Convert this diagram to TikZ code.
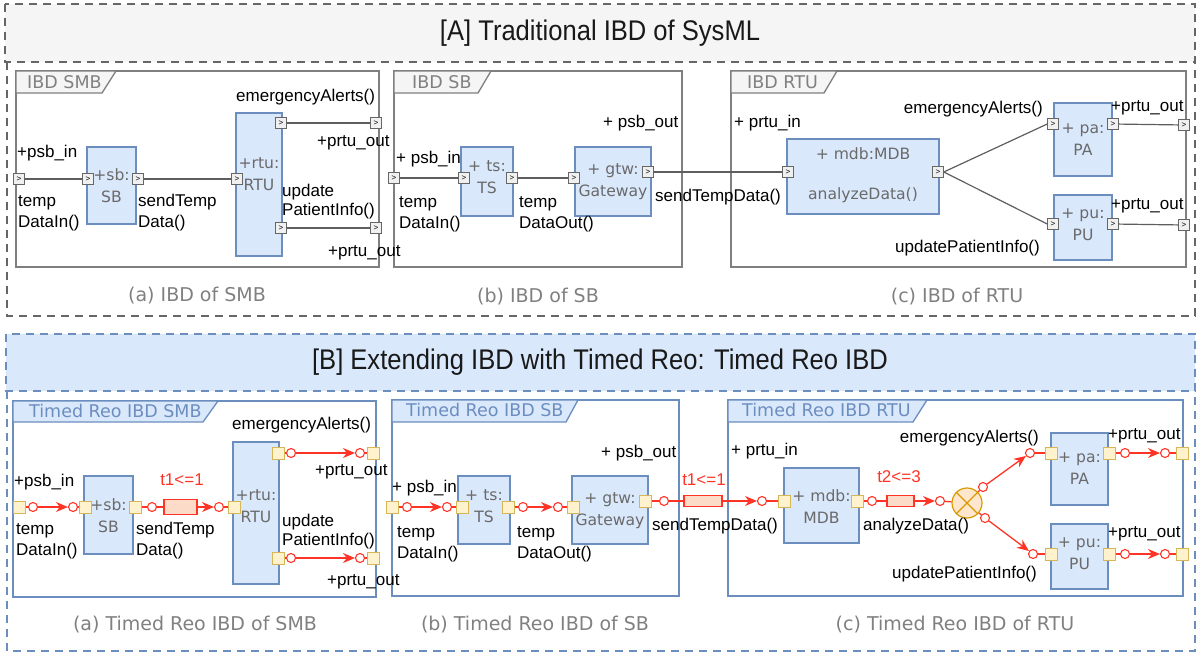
\documentclass[tikz,border=0pt]{standalone}
\usepackage{fontspec}
\setmainfont{Liberation Sans}
\newfontfamily\dejavu{DejaVu Sans}
\newfontfamily\narrowhd[FakeStretch=0.9]{Liberation Sans}
\usetikzlibrary{arrows.meta}
\definecolor{dashgray}{HTML}{666666}
\definecolor{hdrgray}{HTML}{F5F5F5}
\definecolor{framegray}{HTML}{7F7F7F}
\definecolor{linegray}{HTML}{5E5E5E}
\definecolor{portfill}{HTML}{F0F0F0}
\definecolor{blkfill}{HTML}{DAE8FC}
\definecolor{blkline}{HTML}{6C8EBF}
\definecolor{blktext}{HTML}{6A6A6A}
\definecolor{captext}{HTML}{808080}
\definecolor{yfill}{HTML}{FFF2CC}
\definecolor{yline}{HTML}{D6B656}
\definecolor{reored}{HTML}{FF3326}
\definecolor{tmrfill}{HTML}{FCDCC8}
\definecolor{xorfill}{HTML}{FFE6CC}
\definecolor{xorline}{HTML}{D79B00}
\begin{document}
\begin{tikzpicture}[x=1pt,y=-1pt,
  every node/.style={font=\fontsize{17}{21}\selectfont},
  lbl/.style={inner sep=0pt,align=left},
  hdr/.style={font=\narrowhd\fontsize{28.4}{30}\selectfont,text=black!90,inner sep=0pt},
  captxt/.style={font=\dejavu\fontsize{19}{22}\selectfont,text=captext,inner sep=0pt},
  tabtxt/.style={font=\dejavu\fontsize{17.5}{20}\selectfont,inner sep=0pt,anchor=west},
  blk/.style={draw=blkline,fill=blkfill,line width=1.1pt,inner sep=0pt},
  btxt/.style={font=\dejavu\fontsize{15.6}{22}\selectfont,text=blktext,align=center,inner sep=0pt},
  gport/.style={draw=dashgray,fill=portfill,line width=1pt,minimum size=10.5pt,inner sep=0pt,font=\fontsize{8}{8}\selectfont},
  yport/.style={draw=yline,fill=yfill,line width=1pt,minimum size=12pt,inner sep=0pt},
  rc/.style={circle,draw=reored,fill=white,line width=1.1pt,minimum size=9pt,inner sep=0pt},
  tmr/.style={draw=reored,fill=tmrfill,line width=1.2pt,inner sep=0pt},
  chan/.style={draw=reored,line width=1.3pt},
  arr/.style={chan,-{Stealth[length=12pt,width=10pt]}},
  gline/.style={draw=linegray,line width=1.2pt},
  frameA/.style={draw=framegray,line width=1.3pt},
  frameB/.style={draw=blkline,line width=1.3pt},
  outerA/.style={draw=dashgray,line width=2.8pt,dash pattern=on 8pt off 6pt},
  outerB/.style={draw=blkline,line width=2.8pt,dash pattern=on 8pt off 6pt}]
\useasboundingbox (0,0) rectangle (1198,653);

% [A] traditional IBD
\draw[outerA,fill=hdrgray] (5,4) rectangle (1195,62);
\node[hdr] (hdrA) at (600,33) {[A] Traditional IBD of SysML};
\draw[outerA] (7,62) -- (7,316) -- (1195,316) -- (1195,62);

\draw[frameA] (16,71) rectangle (379,267);
\draw[frameA,fill=hdrgray] (16,71) -- (116,71) -- (102,93) -- (16,93) -- cycle;
\node[tabtxt,text=captext] (tabAa) at (27,82) {IBD SMB};
\draw[frameA] (394,71) rectangle (682,267);
\draw[frameA,fill=hdrgray] (394,71) -- (491,71) -- (478,93) -- (394,93) -- cycle;
\node[tabtxt,text=captext] (tabAb) at (412,82) {IBD SB};
\draw[frameA] (731,71) rectangle (1186,267);
\draw[frameA,fill=hdrgray] (731,71) -- (837,71) -- (824,93) -- (731,93) -- cycle;
\node[tabtxt,text=captext] (tabAc) at (747,82) {IBD RTU};

\node[blk,minimum width=49pt,minimum height=77pt] (sbA) at (111.5,185.5) {};
\node[btxt] (sbAt) at (111.5,186) {+sb:\\SB};
\node[blk,minimum width=46pt,minimum height=143pt] (rtuA) at (259,184.5) {};
\node[btxt] (rtuAt) at (259,174) {+rtu:\\RTU};
\node[blk,minimum width=52pt,minimum height=69pt] (tsA) at (487,181.5) {};
\node[btxt] (tsAt) at (487,177) {+ ts:\\TS};
\node[blk,minimum width=76pt,minimum height=69pt] (gtwA) at (613,181.5) {};
\node[btxt] (gtwAt) at (613,181.5) {+ gtw:\\Gateway};
\node[blk,minimum width=152pt,minimum height=75pt] (mdbA) at (863,176.5) {};
\node[btxt] (mdbAt) at (863,175) {+ mdb:MDB\\[18pt]analyzeData()};
\node[blk,minimum width=58pt,minimum height=73pt] (paA) at (1083,139.5) {};
\node[btxt] (paAt) at (1083,140) {+ pa:\\PA};
\node[blk,minimum width=58pt,minimum height=65pt] (puA) at (1083,227.5) {};
\node[btxt] (puAt) at (1083,225) {+ pu:\\PU};

\node[gport] (pA1) at (19,179) {>};
\node[gport] (pA2) at (88,179) {>};
\node[gport] (pA3) at (138,179) {>};
\node[gport] (pA4) at (237,179) {>};
\node[gport] (pA5) at (281,123) {>};
\node[gport] (pA6) at (376,123) {>};
\node[gport] (pA7) at (281,228) {>};
\node[gport] (pA8) at (376,228) {>};
\node[gport] (pB1) at (394,178) {>};
\node[gport] (pB2) at (464,178) {>};
\node[gport] (pB3) at (512,178) {>};
\node[gport] (pB4) at (574,178) {>};
\node[gport] (pB5) at (648,172) {>};
\node[gport] (pC1) at (788,172) {>};
\node[gport] (pC2) at (938,172) {>};
\node[gport] (pC3) at (1053,124) {>};
\node[gport] (pC4) at (1113,124) {>};
\node[gport] (pC5) at (1184,125) {>};
\node[gport] (pC6) at (1053,224) {>};
\node[gport] (pC7) at (1113,224) {>};
\node[gport] (pC8) at (1184,225) {>};

\draw[gline] (pA1) -- (pA2);
\draw[gline] (pA3) -- (pA4);
\draw[gline] (pA5) -- (pA6);
\draw[gline] (pA7) -- (pA8);
\draw[gline] (pB1) -- (pB2);
\draw[gline] (pB3) -- (pB4);
\draw[gline] (pB5) -- (pC1);
\draw[gline] (pC2.east) -- (pC3.west);
\draw[gline] (pC2.east) -- (pC6.west);
\draw[gline] (pC4) -- (pC5);
\draw[gline] (pC7) -- (pC8);

\node[lbl,anchor=west] (lA1) at (17,153) {+psb\_in};
\node[lbl,anchor=west] (lA2) at (18,213) {temp\\DataIn()};
\node[lbl,anchor=west] (lA3) at (138,213) {sendTemp\\Data()};
\node[lbl,anchor=west] (lA4) at (236,97) {emergencyAlerts()};
\node[lbl,anchor=west] (lA5) at (317,143) {+prtu\_out};
\node[lbl,anchor=west] (lA6) at (282,202) {update\\[-2pt]PatientInfo()};
\node[lbl,anchor=west] (lA7) at (328,253) {+prtu\_out};
\node[lbl,anchor=west] (lB1) at (603,123) {+ psb\_out};
\node[lbl,anchor=west] (lB2) at (396,159) {+ psb\_in};
\node[lbl,anchor=west] (lB3) at (399,214) {temp\\DataIn()};
\node[lbl,anchor=west] (lB4) at (519,214) {temp\\DataOut()};
\node[lbl,anchor=west] (lB5) at (655,197) {sendTempData()};
\node[lbl,anchor=west] (lC1) at (734,123) {+ prtu\_in};
\node[lbl,anchor=east] (lC2) at (1043,109) {emergencyAlerts()};
\node[lbl,anchor=east] (lC3) at (1040,248) {updatePatientInfo()};
\node[lbl,anchor=west] (lC4) at (1111,108) {+prtu\_out};
\node[lbl,anchor=west] (lC5) at (1111,206) {+prtu\_out};

\node[captxt] (capAa) at (197,296) {(a) IBD of SMB};
\node[captxt] (capAb) at (538,297) {(b) IBD of SB};
\node[captxt] (capAc) at (957,297) {(c) IBD of RTU};

% [B] timed Reo IBD
\draw[outerB,fill=blkfill] (6,334) rectangle (1195,391);
\node[hdr] (hdrB) at (600,362) {[B] Extending IBD with Timed Reo: Timed Reo IBD};
\draw[outerB] (7,391) -- (7,651) -- (1195,651) -- (1195,391);

\draw[frameB] (13,401) rectangle (376,597);
\draw[frameB,fill=blkfill] (13,401) -- (218,401) -- (203,422) -- (13,422) -- cycle;
\node[tabtxt,text=blkline] (tabBa) at (29,411) {Timed Reo IBD SMB};
\draw[frameB] (392,400) rectangle (679,596);
\draw[frameB,fill=blkfill] (392,400) -- (578,400) -- (566,422) -- (392,422) -- cycle;
\node[tabtxt,text=blkline] (tabBb) at (406,410) {Timed Reo IBD SB};
\draw[frameB] (728,400) rectangle (1183,596);
\draw[frameB,fill=blkfill] (728,400) -- (927,400) -- (913,422) -- (728,422) -- cycle;
\node[tabtxt,text=blkline] (tabBc) at (742,410) {Timed Reo IBD RTU};

\node[blk,minimum width=49pt,minimum height=78pt] (sbB) at (108.5,515) {};
\node[btxt] (sbBt) at (108.5,515.5) {+sb:\\SB};
\node[blk,minimum width=46pt,minimum height=142pt] (rtuB) at (256,513) {};
\node[btxt] (rtuBt) at (256,506) {+rtu:\\RTU};
\node[blk,minimum width=52pt,minimum height=68pt] (tsB) at (484,510) {};
\node[btxt] (tsBt) at (484,506.5) {+ ts:\\TS};
\node[blk,minimum width=76pt,minimum height=68pt] (gtwB) at (610,510) {};
\node[btxt] (gtwBt) at (610,510.5) {+ gtw:\\Gateway};
\node[blk,minimum width=75pt,minimum height=75pt] (mdbB) at (821.5,505.5) {};
\node[btxt] (mdbBt) at (821.5,507) {+ mdb:\\MDB};
\node[blk,minimum width=57pt,minimum height=72pt] (paB) at (1079.5,469) {};
\node[btxt] (paBt) at (1079.5,468.5) {+ pa:\\PA};
\node[blk,minimum width=57pt,minimum height=65pt] (puB) at (1079.5,556.5) {};
\node[btxt] (puBt) at (1079.5,553.5) {+ pu:\\PU};

\node[yport] (s1) at (19,507) {};
\node[yport] (s2) at (85,507) {};
\node[yport] (s3) at (135,507) {};
\node[yport] (s4) at (234,507) {};
\node[yport] (s5) at (278,453) {};
\node[yport] (s6) at (373,453) {};
\node[yport] (s7) at (278,558) {};
\node[yport] (s8) at (373,558) {};
\node[yport] (t1) at (392,507) {};
\node[yport] (t2) at (462,507) {};
\node[yport] (t3) at (508,507) {};
\node[yport] (t4) at (573,507) {};
\node[yport] (t5) at (645,501) {};
\node[yport] (u1) at (784,501) {};
\node[yport] (u2) at (857,501) {};
\node[yport] (u3) at (1051,453) {};
\node[yport] (u4) at (1109,453) {};
\node[yport] (u5) at (1182,453) {};
\node[yport] (u6) at (1051,554) {};
\node[yport] (u7) at (1109,554) {};
\node[yport] (u8) at (1182,554) {};

\node[rc] (cA1) at (33,507) {};
\node[rc] (cA2) at (73,507) {};
\node[rc] (cA3) at (152,507) {};
\node[tmr,minimum width=33pt,minimum height=15pt] (tmA) at (180.5,507) {};
\node[rc] (cA4) at (219,507) {};
\node[rc] (cA5) at (291,453) {};
\node[rc] (cA6) at (360,453) {};
\node[rc] (cA7) at (291,558) {};
\node[rc] (cA8) at (360,558) {};
\node[rc] (cB1) at (407,507) {};
\node[rc] (cB2) at (447,507) {};
\node[rc] (cB3) at (523,507) {};
\node[rc] (cB4) at (558,507) {};
\node[rc] (cB5) at (664,501) {};
\node[tmr,minimum width=38pt,minimum height=11pt] (tmB) at (703,501) {};
\node[rc] (cB6) at (762,501) {};
\node[rc] (cC1) at (872,501) {};
\node[tmr,minimum width=27pt,minimum height=11pt] (tmC) at (900.5,501) {};
\node[rc] (cC2) at (940,501) {};
\node[circle,draw=xorline,fill=xorfill,line width=1.2pt,minimum size=30pt,inner sep=0pt] (xor) at (967,503) {};
\draw[xorline,line width=1.2pt] (xor.45) -- (xor.225) (xor.135) -- (xor.315);
\node[rc] (cC3) at (983,487) {};
\node[rc] (cC4) at (1030,453) {};
\node[rc] (cC5) at (985,518) {};
\node[rc] (cC6) at (1033,554) {};
\node[rc] (cC7) at (1125,453) {};
\node[rc] (cC8) at (1165,453) {};
\node[rc] (cC9) at (1125,554) {};
\node[rc] (cC10) at (1165,554) {};

\draw[chan] (s1) -- (cA1);
\draw[arr] (cA1) -- (cA2);
\draw[chan] (cA2) -- (s2);
\draw[chan] (s3) -- (cA3) -- (tmA);
\draw[arr] (tmA) -- (cA4);
\draw[chan] (cA4) -- (s4);
\draw[chan] (s5) -- (cA5);
\draw[arr] (cA5) -- (cA6);
\draw[chan] (cA6) -- (s6);
\draw[chan] (s7) -- (cA7);
\draw[arr] (cA7) -- (cA8);
\draw[chan] (cA8) -- (s8);
\draw[chan] (t1) -- (cB1);
\draw[arr] (cB1) -- (cB2);
\draw[chan] (cB2) -- (t2);
\draw[chan] (t3) -- (cB3);
\draw[arr] (cB3) -- (cB4);
\draw[chan] (cB4) -- (t4);
\draw[chan] (t5) -- (cB5) -- (tmB);
\draw[arr] (tmB) -- (cB6);
\draw[chan] (cB6) -- (u1);
\draw[chan] (u2) -- (cC1) -- (tmC);
\draw[arr] (tmC) -- (cC2);
\draw[chan] (cC2) -- (xor);
\draw[chan] (xor) -- (cC3);
\draw[arr] (cC3) -- (cC4);
\draw[chan] (cC4) -- (u3);
\draw[chan] (xor) -- (cC5);
\draw[arr] (cC5) -- (cC6);
\draw[chan] (cC6) -- (u6);
\draw[chan] (u4) -- (cC7);
\draw[arr] (cC7) -- (cC8);
\draw[chan] (cC8) -- (u5);
\draw[chan] (u7) -- (cC9);
\draw[arr] (cC9) -- (cC10);
\draw[chan] (cC10) -- (u8);

\node[lbl,anchor=west] (mA1) at (14,482) {+psb\_in};
\node[lbl,anchor=west] (mA2) at (16,541) {temp\\DataIn()};
\node[lbl,anchor=west] (mA3) at (136,541) {sendTemp\\Data()};
\node[lbl,anchor=west] (mA4) at (232,425) {emergencyAlerts()};
\node[lbl,anchor=west] (mA5) at (315,472) {+prtu\_out};
\node[lbl,anchor=west] (mA6) at (282,532) {update\\[-2pt]PatientInfo()};
\node[lbl,anchor=west] (mA7) at (327,582) {+prtu\_out};
\node[lbl,text=reored] (tA) at (182,480) {t1<=1};
\node[lbl,anchor=west] (mB1) at (601,453) {+ psb\_out};
\node[lbl,anchor=west] (mB2) at (392,488) {+ psb\_in};
\node[lbl,anchor=west] (mB3) at (397,544) {temp\\DataIn()};
\node[lbl,anchor=west] (mB4) at (517,544) {temp\\DataOut()};
\node[lbl,anchor=west] (mB5) at (652,526) {sendTempData()};
\node[lbl,text=reored] (tB) at (704,480) {t1<=1};
\node[lbl,anchor=west] (mC1) at (731,451) {+ prtu\_in};
\node[lbl,anchor=west] (mC2) at (863,526) {analyzeData()};
\node[lbl,text=reored] (tC) at (899,477) {t2<=3};
\node[lbl,anchor=east] (mC3) at (1039,438) {emergencyAlerts()};
\node[lbl,anchor=east] (mC4) at (1037,574) {updatePatientInfo()};
\node[lbl,anchor=west] (mC5) at (1108,436) {+prtu\_out};
\node[lbl,anchor=west] (mC6) at (1108,534) {+prtu\_out};

\node[captxt] (capBa) at (195,625) {(a) Timed Reo IBD of SMB};
\node[captxt] (capBb) at (535,625) {(b) Timed Reo IBD of SB};
\node[captxt] (capBc) at (955,625) {(c) Timed Reo IBD of RTU};
\end{tikzpicture}
\end{document}
